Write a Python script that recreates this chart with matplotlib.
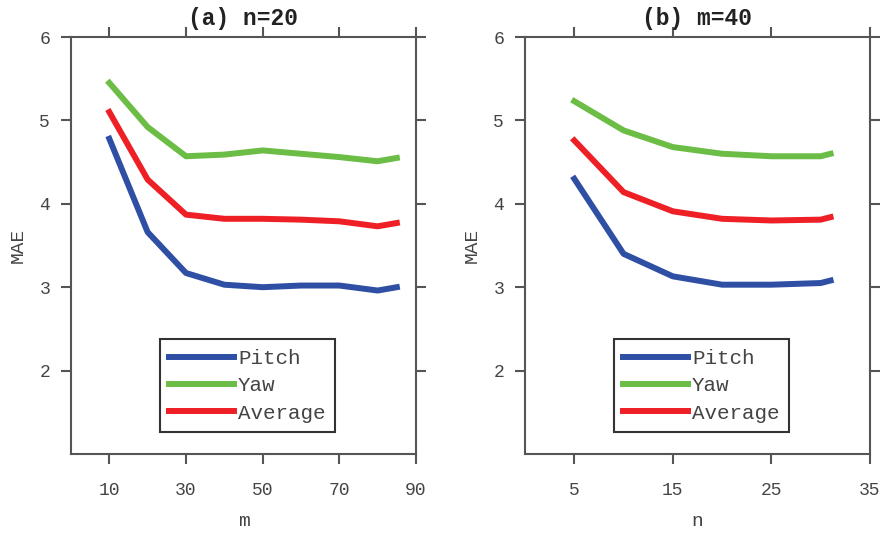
import matplotlib.pyplot as plt

# ── data ────────────────────────────────────────────────────────────
m_vals = [10, 20, 30, 40, 50, 60, 70, 80, 85]
pitch_a = [4.78, 3.66, 3.17, 3.03, 3.00, 3.02, 3.02, 2.96, 3.00]
yaw_a = [5.45, 4.92, 4.57, 4.59, 4.64, 4.60, 4.56, 4.51, 4.55]
avg_a = [5.10, 4.29, 3.87, 3.82, 3.82, 3.81, 3.79, 3.73, 3.77]

n_vals = [5, 10, 15, 20, 25, 30, 31]
pitch_b = [4.30, 3.40, 3.13, 3.03, 3.03, 3.05, 3.08]
yaw_b = [5.23, 4.88, 4.68, 4.60, 4.57, 4.57, 4.60]
avg_b = [4.76, 4.14, 3.91, 3.82, 3.80, 3.81, 3.84]

xticks_a = [10, 30, 50, 70, 90]
xticks_b = [5, 15, 25, 35]
yticks = [2, 3, 4, 5, 6]

BLUE = "#2E4FA3"
GREEN = "#6BBD45"
RED = "#EE2026"
AX_COL = "#555555"
TXT_COL = "#444444"
FONT = "Liberation Mono"

plt.rcParams["font.family"] = FONT

fig = plt.figure(figsize=(8.85, 5.38), dpi=100)
W, H = 885, 538
ax_a = fig.add_axes([71 / W, 1 - 454 / H, 345 / W, 417 / H])
ax_b = fig.add_axes([525 / W, 1 - 454 / H, 345 / W, 417 / H])


def style(ax, x, pitch, yaw, avg, xlim, xticks, xlabel, title):
    ax.plot(x, pitch, color=BLUE, lw=4.3, label="Pitch")
    ax.plot(x, yaw, color=GREEN, lw=4.3, label="Yaw")
    ax.plot(x, avg, color=RED, lw=4.3, label="Average")
    ax.set_xlim(*xlim)
    ax.set_ylim(1, 6)
    ax.set_xticks(xticks)
    ax.set_yticks(yticks)
    for sp in ax.spines.values():
        sp.set_color(AX_COL)
        sp.set_linewidth(1.5)
    ax.tick_params(direction="out", length=7, width=1.5, color=AX_COL,
                   labelcolor=TXT_COL, labelsize=13,
                   top=True, right=True, labeltop=False, labelright=False)
    ax.tick_params(axis="x", pad=13)
    ax.tick_params(axis="y", pad=8)
    ax.set_xlabel(xlabel, fontsize=14, color=TXT_COL, labelpad=10)
    ax.set_ylabel("MAE", fontsize=14, color=TXT_COL, labelpad=9)
    ax.set_title(title, fontsize=16.5, fontweight="bold", color="#222222", pad=9)
    leg = ax.legend(loc="lower left", bbox_to_anchor=(0.258, 0.053),
                    borderaxespad=0, fontsize=15, handlelength=3.1,
                    handletextpad=0.2, labelspacing=0.4, fancybox=False,
                    framealpha=1, borderpad=0.45)
    leg.get_frame().set_edgecolor("#333333")
    leg.get_frame().set_linewidth(1.5)
    for t in leg.get_texts():
        t.set_color(TXT_COL)


style(ax_a, m_vals, pitch_a, yaw_a, avg_a, (0, 90), xticks_a, "m", "(a) n=20")
style(ax_b, n_vals, pitch_b, yaw_b, avg_b, (0, 35), xticks_b, "n", "(b) m=40")

fig.savefig("out.png", dpi=100)
